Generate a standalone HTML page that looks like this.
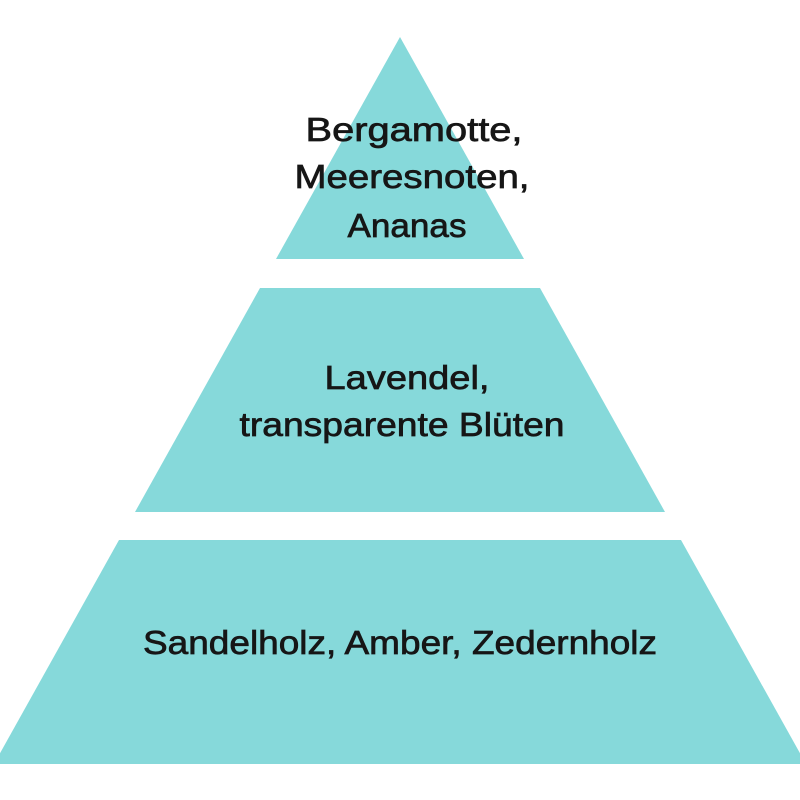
<!DOCTYPE html>
<html><head><meta charset="utf-8"><style>
html,body{margin:0;padding:0;background:#fff;width:800px;height:800px;overflow:hidden}
text{font-family:"Liberation Sans","DejaVu Sans",sans-serif;font-size:33px;fill:#161616;stroke:#161616;stroke-width:0.7;text-anchor:middle}
</style></head><body>
<svg width="800" height="800" viewBox="0 0 800 800">
<g fill="#86d9da">
<polygon points="400,37 524,259 276,259"/>
<polygon points="260,288 540,288 665,512 135,512"/>
<polygon points="119,540 681,540 806,764 -6,764"/>
</g>
<text x="414" y="141" textLength="217" lengthAdjust="spacingAndGlyphs">Bergamotte,</text>
<text x="412" y="188" textLength="235" lengthAdjust="spacingAndGlyphs">Meeresnoten,</text>
<text x="407" y="237" textLength="119" lengthAdjust="spacingAndGlyphs">Ananas</text>
<text x="407" y="389" textLength="165" lengthAdjust="spacingAndGlyphs">Lavendel,</text>
<text x="402" y="436" textLength="325" lengthAdjust="spacingAndGlyphs">transparente Blüten</text>
<text x="400" y="654" textLength="514" lengthAdjust="spacingAndGlyphs">Sandelholz, Amber, Zedernholz</text>
</svg>
</body></html>
